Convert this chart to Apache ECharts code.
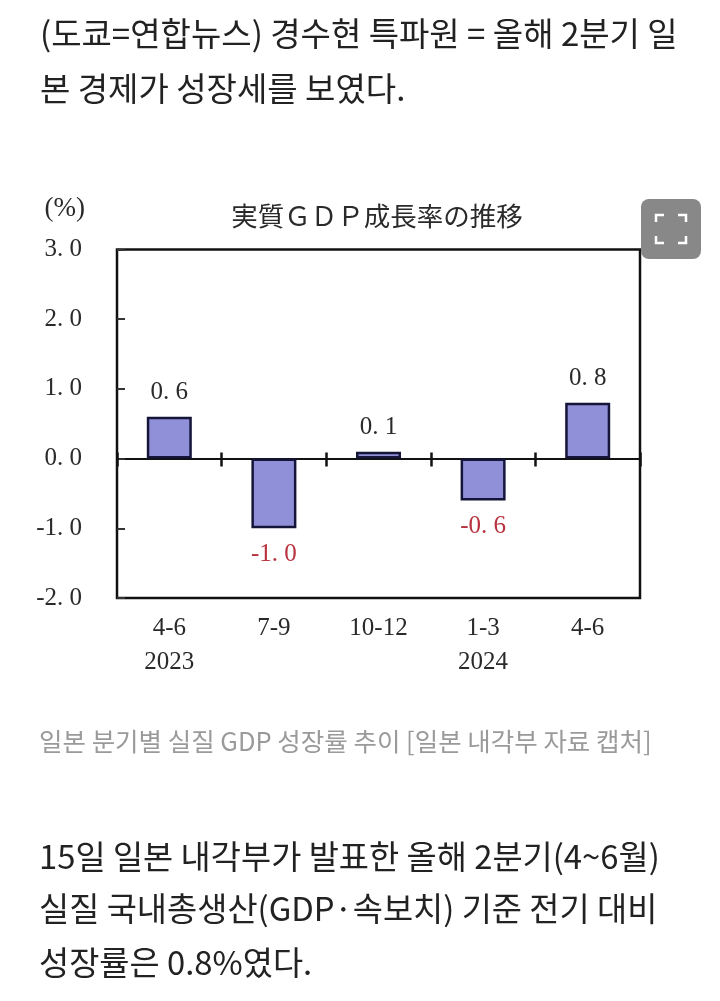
<!DOCTYPE html>
<html><head><meta charset="utf-8">
<style>html,body{margin:0;padding:0;background:#fff}#c{width:720px;height:1001px}</style>
<script src="https://cdn.jsdelivr.net/npm/echarts@6/dist/echarts.min.js"></script>
</head><body><div id="c"></div>
<script>
const quarters = ['4-6','7-9','10-12','1-3','4-6'];
const years = ['2023','','','2024',''];
const growth = [0.6,-1.0,0.1,-0.6,0.8];
const chartTitle = '実質ＧＤＰ成長率の推移';
const unitLabel = '(%)';
const introLines = ['(도쿄=연합뉴스) 경수현 특파원 = 올해 2분기 일','본 경제가 성장세를 보였다.'];
const captionLine = '일본 분기별 실질 GDP 성장률 추이 [일본 내각부 자료 캡처]';
const bodyLines = ['15일 일본 내각부가 발표한 올해 2분기(4~6월)','실질 국내총생산(GDP·속보치) 기준 전기 대비','성장률은 0.8%였다.'];

const KR = '"Noto Sans CJK KR","Noto Sans",sans-serif';
const SERIF = '"Liberation Serif",serif';
const INK = '#2a2a2a';
const spaced = v => v.toFixed(1).replace('.', '. ');
const txt = (text,x,y,size,color,font,align) => ({type:'text',z:20,style:{text,x,y,fill:color,fontSize:size,fontFamily:font,textAlign:align||'left',textVerticalAlign:'middle'}});
const arm = (pts) => ({type:'polyline',z:31,shape:{points:pts},style:{stroke:'#fff',lineWidth:2.5,fill:null}});
const plot = {left:117,right:80,top:249.5,bottom:403};

const chart = echarts.init(document.getElementById('c'));
chart.setOption({
  animation:false,
  backgroundColor:'#fff',
  grid:[
    {...plot,show:true,borderColor:'#111',borderWidth:2.5,backgroundColor:'#fff'},
    {...plot,show:false}
  ],
  xAxis:[
    {type:'category',gridIndex:0,data:quarters.map((q,i)=>years[i]?q+'\n'+years[i]:q),position:'bottom',
     axisLine:{onZero:false,show:false},axisTick:{show:false},
     axisLabel:{interval:0,margin:14,color:INK,fontSize:25,fontFamily:SERIF,lineHeight:33.5,verticalAlign:'top'}},
    {type:'category',gridIndex:0,data:quarters,position:'bottom',
     axisLine:{onZero:true,show:true,lineStyle:{color:'#111',width:2}},
     axisTick:{show:true,inside:false,length:8,interval:0,lineStyle:{color:'#111',width:2.5}},axisLabel:{show:false}},
    {type:'category',gridIndex:1,data:quarters,position:'bottom',
     axisLine:{onZero:true,show:false},
     axisTick:{show:true,inside:true,length:6,interval:0,lineStyle:{color:'#111',width:2.5}},axisLabel:{show:false}}
  ],
  yAxis:[
    {type:'value',gridIndex:0,min:-2,max:3,interval:1,
     name:unitLabel,nameLocation:'end',nameGap:27,
     nameTextStyle:{color:INK,fontSize:27,fontFamily:SERIF,align:'right',padding:[0,32,0,0]},
     axisLine:{show:false},splitLine:{show:false},
     axisTick:{show:true,inside:true,length:8,lineStyle:{color:'#333',width:2}},
     axisLabel:{margin:35,color:INK,fontSize:25,fontFamily:SERIF,lineHeight:31,verticalAlign:'middle',padding:[6,0,0,0],formatter:v=>spaced(v)}},
    {type:'value',gridIndex:1,min:-2,max:3,interval:1,show:false}
  ],
  series:[{type:'bar',xAxisIndex:0,yAxisIndex:0,barWidth:45,z:5,
    data:growth.map(v=>({value:v,label:{position:v<0?'bottom':'top',distance:v<0?14:12,color:v<0?'#b8323f':INK}})),
    itemStyle:{color:'#9090d8',borderColor:'#15153a',borderWidth:2.5},
    label:{show:true,fontSize:25,fontFamily:SERIF,formatter:p=>spaced(p.value)}}],
  title:{text:chartTitle,left:372,top:198,textAlign:'center',textStyle:{color:INK,fontSize:26.5,fontWeight:'normal',fontFamily:'"Noto Sans CJK JP",serif'}},
  graphic:{elements:[
    ...introLines.map((t,i)=>txt(t,40,[33,88][i],33,'#222',KR)),
    txt(captionLine,39,741,25.5,'#9a9a9a',KR),
    ...bodyLines.map((t,i)=>txt(t,39,[857,909,963][i],32.8,'#222',KR)),
    {type:'rect',z:30,shape:{x:641,y:199,width:60,height:60,r:8},style:{fill:'#888'}},
    arm([[656,222],[656,215],[664,215]]),arm([[678,215],[686,215],[686,222]]),
    arm([[656,236],[656,243],[664,243]]),arm([[678,243],[686,243],[686,236]])
  ]}
});
</script></body></html>
